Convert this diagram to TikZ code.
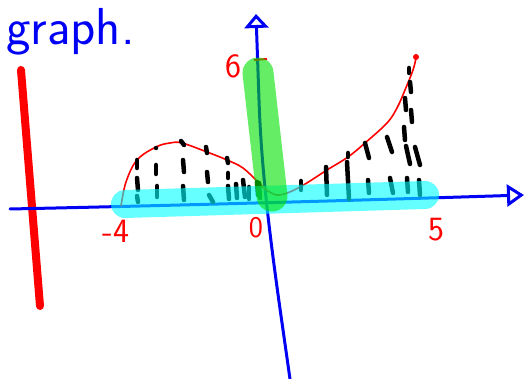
\documentclass[tikz,border=0pt]{standalone}
\usepackage{amsmath}
\usepackage{tikz}
\usetikzlibrary{arrows.meta, positioning}

\definecolor{hlgreencol}{RGB}{0,225,0}
\definecolor{hlcyancol}{RGB}{0,255,255}
\definecolor{penblue}{RGB}{0,0,245}

\begin{document}
\begin{tikzpicture}[
    x=1pt, y=-1pt,
    every node/.style={inner sep=0pt},
    axis/.style={penblue,line width=3pt,line cap=round},
    curve/.style={red,line width=1.6pt},
    dashmark/.style={black,line width=4.5pt,line cap=round},
    hlgreen/.style={hlgreencol,opacity=0.6,line width=31pt,line cap=round},
    hlcyan/.style={hlcyancol,opacity=0.6,line width=28pt,line cap=round},
    lbl/.style={red,font=\fontsize{34}{36}\selectfont\sffamily}
]
\useasboundingbox (0,0) rectangle (528,379);

% Title
\node[penblue,anchor=base west,font=\fontsize{52}{54}\selectfont\sffamily] (title) at (6,45) {graph.};

% Red bar
\draw[red,line width=8pt,line cap=round] (21,70) -- (40,306);

% Axes
\draw[axis,-{Triangle[open,length=17pt,width=22pt,line width=3pt]}]
    (10,209) .. controls (200,205) and (400,199) .. (524,195);
\draw[axis,-{Triangle[open,length=14pt,width=24pt,line width=3pt]}]
    (290,379) .. controls (276,280) and (262,190) .. (259,100) -- (256,14);

% Curve
\draw[curve] plot[smooth,tension=0.6] coordinates {
    (121,206) (126,182) (137,160) (156,147) (170,143) (182,143) (207,152)
    (227,160) (243,168) (258,182) (268,191) (280,195) (300,187) (327,170)
    (348,157) (365,143) (387,123) (397,108) (405,90) (413,70) (416,58)};
\fill[red] (416,57) circle (3pt);
\draw[red,line width=2pt] (254,60) -- (267,59);

% Dashes
\foreach \xa/\ya/\xb/\yb in {
    137/160/137/168, 137/178/138/190, 137/196/138/202,
    156/148/156/148, 156/165/156/174, 157/186/157/197,
    181/141/184/145, 183/160/184/172, 183/186/184/200,
    206/147/207/153, 207/172/208/182, 209/195/213/202,
    227/158/228/163, 228/173/228/178, 228/186/229/199,
    236/184/237/198, 243/180/245/197, 249/187/249/199,
    257/182/258/195,
    259/183/260/198, 301/181/301/190,
    326/167/327/195,
    348/153/348/157, 347/162/349/199,
    365/143/369/158, 368/180/369/193,
    387/137/392/152, 390/178/393/193,
    404/127/405/140, 406/146/410/164, 407/178/408/192,
    409/68/409/73, 410/82/411/92, 405/98/406/110, 411/110/412/122,
    415/147/420/165, 419/180/420/195} {
  \draw[dashmark] (\xa,\ya) -- (\xb,\yb);
}

% Highlights
\draw[hlcyan] (125,204) -- (425,195);
\draw[hlgreen] (258,73) -- (272,196);

% Labels
\node[lbl] (six) at (233,66) {6};
\node[lbl] (mfour) at (116,231) {-4};
\node[lbl,font=\fontsize{30}{32}\selectfont\sffamily] (zero) at (256,228) {0};
\node[lbl] (five) at (436,230) {5};

\end{tikzpicture}
\end{document}
